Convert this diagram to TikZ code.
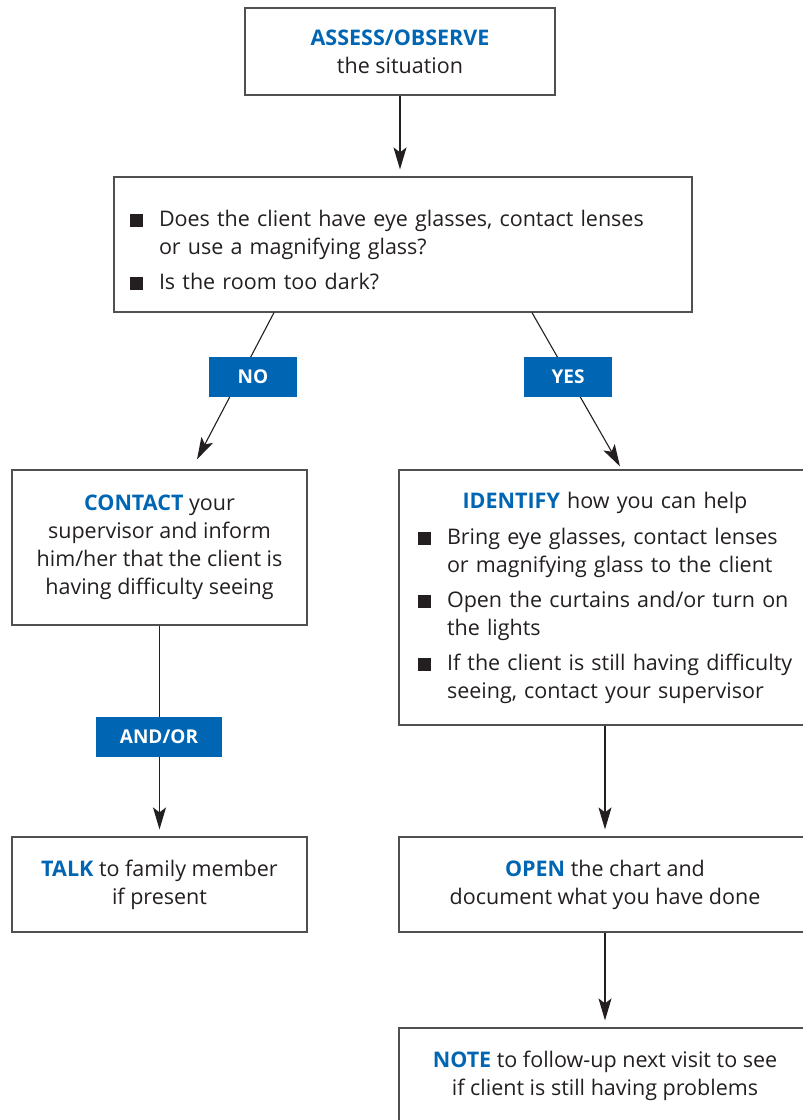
\documentclass[tikz,border=0pt]{standalone}
\usepackage{fontspec}
\setmainfont{Open Sans}
\usetikzlibrary{arrows.meta,calc}
\definecolor{blu}{RGB}{0,102,179}
\definecolor{txt}{RGB}{35,31,32}
\definecolor{edge}{RGB}{80,80,82}
\newcommand{\kw}[1]{{\bfseries\color{blu}#1}}
\newcommand{\bul}{\makebox[29pt][l]{\raisebox{-0.5pt}{\color{txt}\rule{13pt}{13pt}}}}
\newcommand{\bitem}[1]{\par\hangindent=29pt\hangafter=1\noindent\bul #1\par}
\begin{document}
\begin{tikzpicture}[x=1pt,y=-1pt,
  font=\fontsize{21.5}{28}\selectfont, text=txt,
  box/.style={draw=edge, line width=1.2pt, align=center, inner sep=0pt},
  tag/.style={fill=blu, text=white, font=\fontsize{19}{22}\selectfont\bfseries,
              minimum height=40pt, inner sep=0pt},
  arr/.style={draw=txt, line width=1.1pt, -{Stealth[length=22pt,width=13pt,inset=5pt]}, shorten >=7pt},
  darr/.style={draw=txt, line width=1.1pt, -{Stealth[length=22pt,width=13pt,inset=5pt]}}]
\useasboundingbox (0,0) rectangle (803,1120);
\clip (0,0) rectangle (803,1120);

\node[box, minimum width=310pt, minimum height=87pt] (assess) at (400,51.5)
  {\kw{ASSESS/OBSERVE}\\the situation};

\node[box, align=left, text width=546pt, inner xsep=16pt, minimum height=135pt] (quest) at (403,244.5)
  {\bitem{\mbox{Does the client have eye glasses, contact lenses}\newline \mbox{or use a magnifying glass?}}\vspace{7pt}%
   \bitem{\mbox{Is the room too dark?}}};

\node[box, minimum width=295pt, minimum height=155pt] (contact) at (159.5,547.5)
  {\kw{CONTACT} your\\supervisor and inform\\him/her that the client is\\having difficulty seeing};

\node[box, align=left, text width=374pt, inner xsep=19pt, minimum height=255pt] (identify) at (605,597.5)
  {{\centering\kw{IDENTIFY} how you can help\par}\vspace{8pt}%
   \bitem{\mbox{Bring eye glasses, contact lenses}\newline \mbox{or magnifying glass to the client}}\vspace{7pt}%
   \bitem{\mbox{Open the curtains and/or turn on}\newline \mbox{the lights}}\vspace{7pt}%
   \bitem{\mbox{If the client is still having difficulty}\newline \mbox{seeing, contact your supervisor}}};

\node[box, minimum width=295pt, minimum height=95pt] (talk) at (159.5,884.5)
  {\kw{TALK} to family member\\if present};

\node[box, minimum width=412pt, minimum height=95pt] (open) at (605,884.5)
  {\kw{OPEN} the chart and\\document what you have done};

\node[box, minimum width=412pt, minimum height=95pt] (note) at (605,1075.5)
  {\kw{NOTE} to follow-up next visit to see\\if client is still having problems};

% connectors
\draw[arr] (assess.south) -- (assess.south |- quest.north);
\coordinate (qL) at ([xshift=-129pt]quest.south);
\coordinate (qR) at ([xshift=129pt]quest.south);
\draw[darr] (qL) -- ([xshift=37.5pt,yshift=10pt]contact.north);
\draw[darr] (qR) -- ([xshift=15pt,yshift=3pt]identify.north);
\draw[arr] (contact.south) -- (talk.north);
\draw[arr] (identify.south) -- (open.north);
\draw[arr] (open.south) -- (note.north);

% tags
\node[tag, minimum width=88pt] (no) at (253,377) {NO};
\node[tag, minimum width=88pt] (yes) at (568,377) {YES};
\node[tag, minimum width=126pt] (andor) at (159,737) {AND/OR};
\end{tikzpicture}
\end{document}
